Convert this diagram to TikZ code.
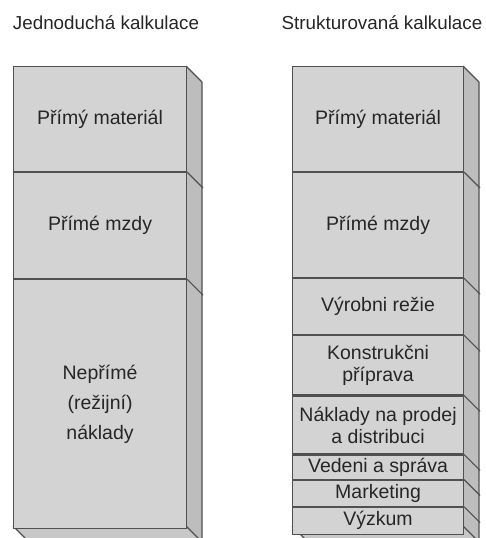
\documentclass[tikz,border=0pt]{standalone}
\usepackage{fontspec}
\setmainfont{Liberation Sans}
\usetikzlibrary{calc}
\definecolor{frontc}{HTML}{D3D3D3}
\definecolor{sidec}{HTML}{BDBDBD}
\definecolor{bottomc}{HTML}{C8C8C8}
\definecolor{edgec}{HTML}{505050}
\definecolor{txtc}{HTML}{262626}
\begin{document}
\begin{tikzpicture}[x=1pt,y=-1pt,
  sec/.style={draw=edgec, fill=frontc, line width=1.1pt, inner sep=0pt, align=center,
    text=txtc, font=\fontsize{19.5}{22}\selectfont, anchor=north west},
  lsec/.style={sec, minimum width=173pt},
  rsec/.style={sec, minimum width=171pt},
  face/.style={draw=edgec, line width=1.1pt, line join=round},
  divider/.style={draw=edgec, line width=1.1pt},
  title/.style={text=txtc, font=\fontsize{18.8}{22}\selectfont, inner sep=0pt}]
\useasboundingbox (0,0) rectangle (485,538);

% titles
\node[title] (t1) at (106,23) {Jednoduchá kalkulace};
\node[title] (t2) at (382,23) {Strukturovaná kalkulace};

% left column coordinates
\coordinate (ltr) at (186,66);
\coordinate (lbr) at (186,526);
\coordinate (lbl) at (13,526);
\fill[sidec] (ltr) -- ++(16,16) -- ($(lbr)+(16,16)$) -- (lbr) -- cycle;
\draw[face] (ltr) -- ++(16,16) -- ($(lbr)+(16,16)$);
\fill[bottomc] (lbl) -- (lbr) -- ($(lbr)+(16,16)$) -- ($(lbl)+(16,16)$) -- cycle;
\draw[face] (lbr) -- ++(16,16) -- ($(lbl)+(16,16)$) -- (lbl);

\node[lsec, minimum height=105pt] (l1) at (13,66) {Přímý materiál};
\node[lsec, minimum height=106pt] (l2) at (l1.south west) {Přímé mzdy};
\node[lsec, minimum height=249pt, font=\fontsize{19.5}{30}\selectfont] (l3) at (l2.south west) {Nepřímé\\(režijní)\\náklady};
\draw[divider] (l1.south east) -- ++(16,16);
\draw[divider] (l2.south east) -- ++(16,16);

% right column coordinates
\coordinate (rtr) at (463,66);
\coordinate (rbr) at (463,526);
\coordinate (rbl) at (292,526);
\fill[sidec] (rtr) -- ++(16,16) -- ($(rbr)+(16,16)$) -- (rbr) -- cycle;
\draw[face] (rtr) -- ++(16,16) -- ($(rbr)+(16,16)$);
\fill[bottomc] (rbl) -- (rbr) -- ($(rbr)+(16,16)$) -- ($(rbl)+(16,16)$) -- cycle;
\draw[face] (rbr) -- ++(16,16) -- ($(rbl)+(16,16)$) -- (rbl);

\node[rsec, minimum height=105pt] (r1) at (292,66) {Přímý materiál};
\node[rsec, minimum height=105pt] (r2) at (r1.south west) {Přímé mzdy};
\node[rsec, minimum height=56pt] (r3) at (r2.south west) {Výrobni režie};
\node[rsec, minimum height=59pt] (r4) at (r3.south west) {Konstrukčni\\příprava};
\node[rsec, minimum height=58pt] (r5) at (r4.south west) {Náklady na prodej\\a distribuci};
\node[rsec, minimum height=24pt] (r6) at (r5.south west) {Vedeni a správa};
\node[rsec, minimum height=26pt] (r7) at (r6.south west) {Marketing};
\node[rsec, minimum height=27pt] (r8) at (r7.south west) {Výzkum};
\foreach \n in {r1,r2,r3,r4,r5,r6,r7}
  \draw[divider] (\n.south east) -- ++(16,16);
\end{tikzpicture}
\end{document}
